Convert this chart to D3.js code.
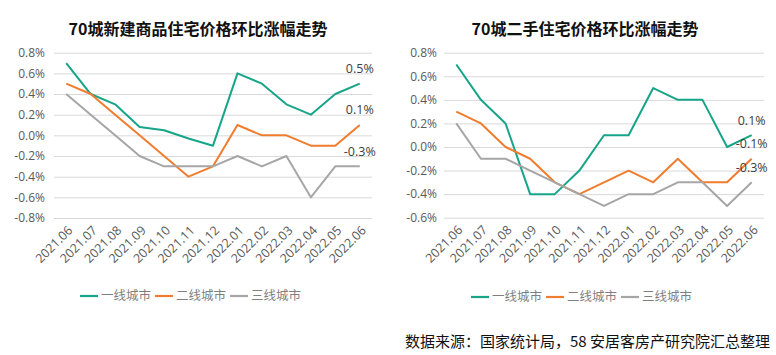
<!DOCTYPE html>
<html><head><meta charset="utf-8">
<script src="https://cdn.jsdelivr.net/npm/d3@7"></script>
<style>
body{margin:0;background:#fff;}
svg text{font-family:"Open Sans","Noto Sans CJK SC",sans-serif;}
</style></head>
<body><svg id="c" width="776" height="355"></svg>
<script>
const months = ["2021.06","2021.07","2021.08","2021.09","2021.10","2021.11","2021.12","2022.01","2022.02","2022.03","2022.04","2022.05","2022.06"];
const seriesNames = ["一线城市","二线城市","三线城市"];
const colors = ["#17a589","#f07c2e","#a6a6a6"];
// Left: new homes
const newTier1 = [0.7,0.4,0.3,0.08,0.05,-0.03,-0.1,0.6,0.5,0.3,0.2,0.4,0.5];
const newTier2 = [0.5,0.4,0.2,0.0,-0.2,-0.4,-0.3,0.1,0.0,0.0,-0.1,-0.1,0.1];
const newTier3 = [0.4,0.2,0.0,-0.2,-0.3,-0.3,-0.3,-0.2,-0.3,-0.2,-0.6,-0.3,-0.3];
const newTicks = [-0.8,-0.6,-0.4,-0.2,0.0,0.2,0.4,0.6,0.8];
// Right: second-hand homes
const usedTier1 = [0.7,0.4,0.2,-0.4,-0.4,-0.2,0.1,0.1,0.5,0.4,0.4,0.0,0.1];
const usedTier2 = [0.3,0.2,0.0,-0.1,-0.3,-0.4,-0.3,-0.2,-0.3,-0.1,-0.3,-0.3,-0.1];
const usedTier3 = [0.2,-0.1,-0.1,-0.2,-0.3,-0.4,-0.5,-0.4,-0.4,-0.3,-0.3,-0.5,-0.3];
const usedTicks = [-0.6,-0.4,-0.2,0.0,0.2,0.4,0.6,0.8];
const titles = ["70城新建商品住宅价格环比涨幅走势","70城二手住宅价格环比涨幅走势"];
const sourceText = "数据来源：国家统计局，58 安居客房产研究院汇总整理";

const svg = d3.select("#c");
const fmt = d => d.toFixed(1) + "%";

function drawChart(cfg){
  const g = svg.append("g");
  const x = d3.scaleBand().domain(months).range([cfg.x0, cfg.x1]);
  const y = d3.scaleLinear().domain(cfg.domain).range([cfg.yBottom, cfg.yTop]);
  // title
  g.append("text").attr("x", cfg.titleX).attr("y", 29).attr("dy","0.35em")
    .attr("text-anchor","middle").attr("font-size",16).attr("font-weight","bold")
    .attr("fill","#111").style("font-family",'"Noto Sans CJK SC",sans-serif').text(cfg.title);
  // y axis with gridlines
  const ax = g.append("g").attr("transform",`translate(${cfg.x0},0)`)
    .call(d3.axisLeft(y).tickValues(cfg.ticks).tickFormat(fmt)
      .tickSize(-(cfg.x1-cfg.x0)).tickPadding(cfg.pad));
  ax.select(".domain").remove();
  ax.selectAll("line").attr("stroke","#d9d9d9").attr("stroke-width",1);
  ax.selectAll("text").attr("fill","#595959").attr("font-size",12)
    .style("font-family",'"Open Sans",sans-serif');
  // x labels
  g.selectAll(".xl").data(months).enter().append("text")
    .attr("transform", d => `translate(${x(d)+x.bandwidth()/2+4},${cfg.yBottom+10}) rotate(-45)`)
    .attr("text-anchor","end").attr("dy","0.35em")
    .attr("font-size",12.5).attr("fill","#595959")
    .style("font-family",'"Open Sans",sans-serif').text(d=>d);
  // lines
  const line = d3.line().x((d,i)=>x(months[i])+x.bandwidth()/2).y(d=>y(d));
  cfg.series.forEach((s,k)=>{
    g.append("path").datum(s).attr("d",line).attr("fill","none")
      .attr("stroke",colors[k]).attr("stroke-width",2).attr("stroke-linejoin","round");
  });
  // end labels
  cfg.series.forEach((s,k)=>{
    const last = s[s.length-1];
    g.append("text").attr("x", x(months[months.length-1])+x.bandwidth()/2)
      .attr("y", y(last)-15).attr("dy","0.35em").attr("text-anchor","middle")
      .attr("font-size",12.5).attr("fill","#404040")
      .style("font-family",'"Open Sans",sans-serif').text(fmt(last));
  });
  // legend
  const lg = g.append("g").attr("transform",`translate(${cfg.legendX},${cfg.legendY})`);
  seriesNames.forEach((n,k)=>{
    const it = lg.append("g").attr("transform",`translate(${k*75},0)`);
    it.append("line").attr("x1",0).attr("x2",18).attr("y1",0).attr("y2",0)
      .attr("stroke",colors[k]).attr("stroke-width",2.2);
    it.append("text").attr("x",21).attr("dy","0.35em").attr("font-size",12.5)
      .attr("fill","#7f7f7f").style("font-family",'"Noto Sans CJK SC",sans-serif').text(n);
  });
}

drawChart({x0:54,x1:372,yTop:52.7,yBottom:218,domain:[-0.8,0.8],ticks:newTicks,pad:9,
  title:titles[0],titleX:198,series:[newTier1,newTier2,newTier3],legendX:80,legendY:296});
drawChart({x0:444,x1:764,yTop:52.7,yBottom:217.7,domain:[-0.6,0.8],ticks:usedTicks,pad:7,
  title:titles[1],titleX:585,series:[usedTier1,usedTier2,usedTier3],legendX:471,legendY:297});

svg.append("text").attr("x",770).attr("y",342).attr("dy","0.35em").attr("text-anchor","end")
  .attr("font-size",15).attr("fill","#111").style("font-family",'"Noto Sans CJK SC",sans-serif')
  .text(sourceText);
</script></body></html>
